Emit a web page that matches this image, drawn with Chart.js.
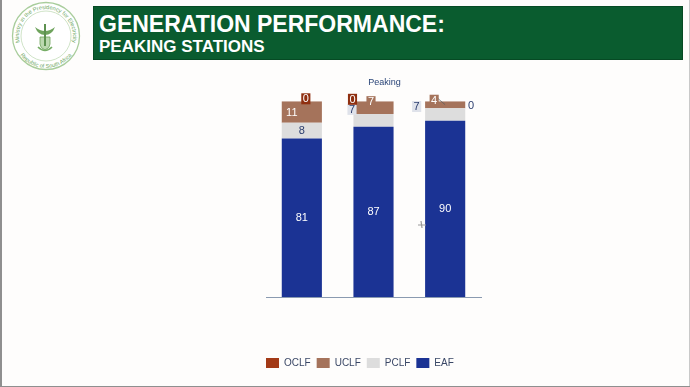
<!DOCTYPE html>
<html><head><meta charset="utf-8">
<style>
html,body{margin:0;padding:0;background:#fefdfc;width:690px;height:387px;overflow:hidden;font-family:"Liberation Sans",Arial,sans-serif}
#edge{position:absolute;left:0;top:0;width:2px;height:387px;background:#8f8f8f}
#edgeR{position:absolute;right:0;top:0;width:1px;height:387px;background:#c9c9c9}
#edgeB{position:absolute;left:0;bottom:0;width:690px;height:1px;background:#8f8f8f}
#band{position:absolute;left:93px;top:6px;width:588px;height:52px;background:#0a5c2f;border:1px solid #064a24;color:#fff;font-weight:bold}
#t1{position:absolute;left:5px;top:4px;font-size:23px;line-height:27px;white-space:nowrap}
#t2{position:absolute;left:5px;top:30px;font-size:17px;line-height:20px;white-space:nowrap}
#logo{position:absolute;left:8px;top:0;width:76px;height:72px}
#wrap{position:absolute;left:0;top:0;width:690px;height:387px}
#mark{position:absolute;left:417px;top:219px}
</style></head><body>
<div id="edge"></div><div id="edgeR"></div><div id="edgeB"></div>
<svg id="logo" viewBox="0 0 76 72">
<defs><path id="a1" d="M38 63 A27 27 0 0 1 38 9 A27 27 0 0 1 38 63"/><path id="a2" d="M38 4 A32 32 0 0 0 38 68 A32 32 0 0 0 38 4"/></defs>
<circle cx="38" cy="36" r="33.5" fill="#fff" stroke="#a9cd9c" stroke-width="1.3"/>
<circle cx="38" cy="36" r="25" fill="#fff" stroke="#c3dcb9" stroke-width=".8"/>
<text font-family="Liberation Sans" font-size="5.6" fill="#6fa85f"><textPath href="#a1" startOffset="50%" text-anchor="middle">Ministry in the Presidency for Electricity</textPath></text>
<text font-family="Liberation Sans" font-size="5.6" fill="#6fa85f"><textPath href="#a2" startOffset="50%" text-anchor="middle">Republic of South Africa</textPath></text>
<path d="M27 27 Q37 35 47 27 Q44 35 37 35 Q30 35 27 27Z" fill="#6ea35c"/>
<path d="M32 37 H42 V44 Q42 48 37 50 Q32 48 32 44Z" fill="#bcd9b0" stroke="#6ea35c" stroke-width=".8"/>
<rect x="36" y="24" width="2" height="22" fill="#5d9150"/>
<path d="M30 47 Q37 54 44 47" fill="none" stroke="#76ad66" stroke-width="1.6"/>
</svg>
<div id="band"><div id="t1">GENERATION PERFORMANCE:</div><div id="t2">PEAKING STATIONS</div></div>
<div id="wrap"><canvas id="c" width="690" height="387"></canvas></div>
<svg id="mark" width="10" height="10"><path d="M1 6 L9 6 M4 2 L5 9" stroke="#9a9a9a" stroke-width="1.2"/></svg>
<script src="https://cdn.jsdelivr.net/npm/chart.js@4"></script>
<script>
const categories = ["Period 1","Period 2","Period 3"];
const EAF  = [81,87,90];
const PCLF = [8,6.5,6.5];
const UCLF = [11,6.5,3.5];
const OCLF = [0,0,0];
const seriesNames = ["EAF","PCLF","UCLF","OCLF"];
const seriesColors = ["#1b3394","#dddddd","#a5735b","#a33a17"];
const seriesValues = [EAF,PCLF,UCLF,OCLF];

/* label placement relative to the segment centre: [dx, dy] per dataset / category */
const labelNudge = [
 [[0,0],[0,0],[0,0]],
 [[0,0],[-21.5,-11],[-28.5,-8]],
 [[-10,0],[-2.5,-6],[-11,-4.5]],
 [[4,-2.5],[-21,-2],[26,4.5]]
];
/* label chip background and text colour */
const labelBg = [
 [null,null,null],
 [null,"#dfe2ea","#dfe2ea"],
 [null,"#a5735b","#a5735b"],
 ["#8f2f10","#8f2f10",null]
];
const labelInk = [
 ["#fff","#fff","#fff"],
 ["#2b3d6e","#2b3d6e","#2b3d6e"],
 ["#fff","#fff","#fff"],
 ["#fff","#fff","#2b3d6e"]
];

const segmentLabels = {
 id:"segmentLabels",
 afterDatasetsDraw(chart){
  const ctx = chart.ctx;
  ctx.save();
  ctx.font = '11px "Liberation Sans"';
  ctx.textAlign = "center";
  ctx.textBaseline = "middle";
  chart.data.datasets.forEach((ds,i)=>{
   chart.getDatasetMeta(i).data.forEach((bar,j)=>{
    const p = bar.getProps(["x","y","base"],true);
    const cy = (p.y + p.base)/2;
    const x = p.x + labelNudge[i][j][0];
    const y = cy + labelNudge[i][j][1];
    const s = String(Math.round(ds.data[j]));
    if(labelBg[i][j]){
      const w = ctx.measureText(s).width + 3;
      ctx.fillStyle = labelBg[i][j];
      ctx.fillRect(x-w/2,y-5.5,w,11);
    }
    if(i===2 && j===2){
      ctx.strokeStyle="#5a5a5a";ctx.lineWidth=.7;
      ctx.beginPath();ctx.moveTo(x+4,y-1.5);ctx.lineTo(p.x,cy);ctx.stroke();
    }
    ctx.fillStyle = labelInk[i][j];
    ctx.fillText(s,x,y+.5);
   });
  });
  ctx.restore();
 }
};
const shiftTitle = {
 id:"shiftTitle",
 afterLayout(chart){
  const b = chart.titleBlock;
  if(b){ b.left += 14; b.right += 14; }
 }
};

new Chart(document.getElementById("c"),{
 type:"bar",
 data:{labels:categories,datasets:seriesNames.map((n,i)=>({
   label:n,data:seriesValues[i],backgroundColor:seriesColors[i],
   barPercentage:.56,categoryPercentage:1
 }))},
 plugins:[segmentLabels,shiftTitle],
 options:{
  responsive:false,animation:false,
  layout:{padding:{left:260,right:209,top:77,bottom:9}},
  plugins:{
   tooltip:{enabled:false},
   title:{display:true,text:"Peaking",color:"#2a4578",font:{family:"Liberation Sans",size:9,weight:"normal"},padding:{top:0,bottom:13.5}},
   legend:{position:"bottom",align:"start",reverse:true,
     labels:{boxWidth:13,boxHeight:10,padding:6,color:"#3a4766",font:{family:"Liberation Sans",size:10}}}
  },
  scales:{
   x:{stacked:true,grid:{display:false},border:{display:true,color:"#8a9ab0",width:1},ticks:{display:false},
      afterFit(s){s.height=55;}},
   y:{stacked:true,min:0,max:100,grid:{display:false},border:{display:false},ticks:{display:false},
      afterFit(s){s.width=6;}}
  }
 }
});
</script>
</body></html>
